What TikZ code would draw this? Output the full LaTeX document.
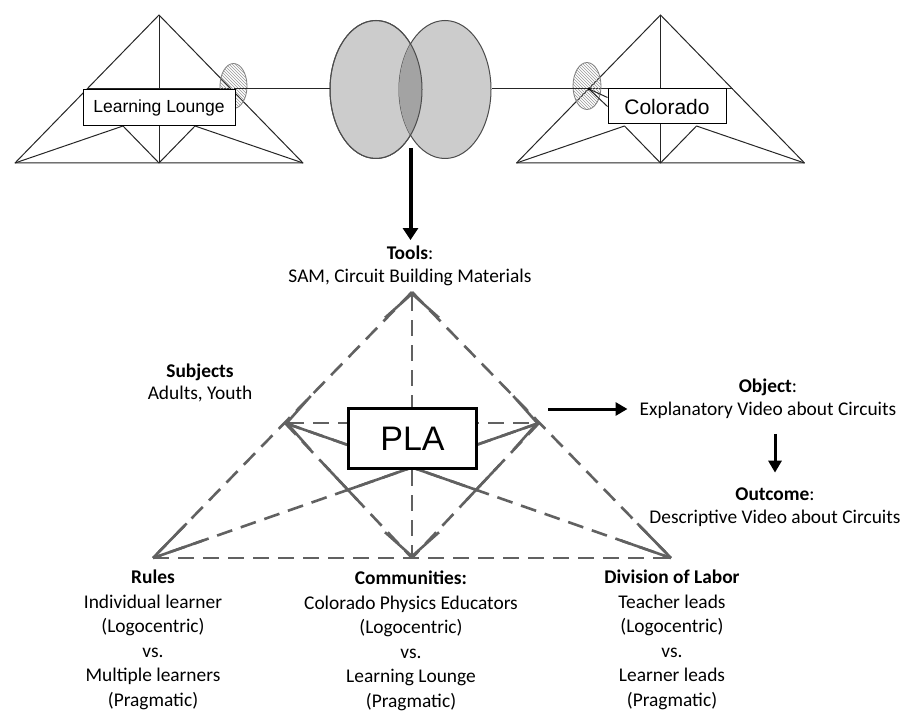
\documentclass[tikz,border=0pt]{standalone}
\usepackage{fontspec}
\setmainfont{Carlito}
\newfontfamily\arialfont{Liberation Sans}
\usetikzlibrary{positioning, calc, arrows.meta, shapes.geometric, patterns}

\tikzset{
  truss/.style={line width=1pt, black!85, line join=round},
  place/.style={draw, line width=1pt, fill=white, inner sep=0pt, font=\arialfont\fontsize{17.5}{20}\selectfont},
  hatch/.style={ellipse, draw=gray, line width=0.8pt, pattern=north west lines, pattern color=gray!80, inner sep=0pt},
  venn/.style={ellipse, draw=black!70, line width=1pt, fill=gray!40, minimum width=92pt, minimum height=138pt, inner sep=0pt},
  link/.style={black!62, line width=2.6pt, dash pattern=on 16pt off 9pt},
  solidlink/.style={link, solid},
  barb/.tip={Straight Barb[length=24pt,width=54pt]},
  heavy/.style={line width=3pt, -{Triangle[length=12pt,width=13pt]}},
  lbl/.style={align=center, inner sep=0pt, font=\fontsize{19.4}{22.5}\selectfont},
  block/.style={align=center, inner sep=0pt, font=\fontsize{19.4}{24.5}\selectfont},
  plabox/.style={draw, line width=3pt, fill=white, inner sep=0pt, minimum width=128pt, minimum height=60pt, font=\arialfont\fontsize{34}{38}\selectfont},
}

\begin{document}
\begin{tikzpicture}[x=1pt, y=-1pt]
  \fill[white] (0,0) rectangle (905,711);
  \useasboundingbox (0,0) rectangle (905,711);

  % Draw the two trusses
  \foreach \bx in {15,516.5} {
    \draw[truss] (\bx,163) -- (\bx+288,163) -- (\bx+144,15) -- cycle;
    \draw[truss] (\bx+144,15) -- (\bx+144,163);
    \draw[truss] (\bx+72,89) -- (\bx+216,89);
    \draw[truss] (\bx,163) -- (\bx+108,126) -- (\bx+144,163) -- (\bx+180,126) -- (\bx+288,163);
  }

  % Hatched joints and site boxes
  \node[hatch, minimum width=27pt, minimum height=45pt] (hatch left) at (233.5,86) {};
  \node[hatch, minimum width=28pt, minimum height=47pt] (hatch right) at (587,86) {};
  \node[place, minimum width=152pt, minimum height=36pt] (lounge) at (159,108) {Learning Lounge};
  \node[place, minimum width=118pt, minimum height=35pt, font=\arialfont\fontsize{21}{24}\selectfont] (colorado) at (667,106.5) {Colorado};

  % Overlapping ellipses
  \node[venn] (venn left) at (376,89.5) {};
  \node[venn] (venn right) at (445,89.5) {};
  \begin{scope}
    \clip (376,89.5) ellipse [x radius=46, y radius=69];
    \fill[gray!72] (445,89.5) ellipse [x radius=46, y radius=69];
  \end{scope}
  \draw[black!70, line width=1pt] (376,89.5) ellipse [x radius=46, y radius=69];

  % Links from the trusses to the ellipses
  \coordinate (joint) at (589,89);
  \draw[truss] (hatch left.center |- joint) -- (venn left.west |- joint);
  \draw[truss] (venn right.east |- joint) -- (joint);
  \draw[truss] (joint) -- (colorado.west);
  \draw[truss] (joint) -- ([yshift=9pt]colorado.west);
  \fill (joint) circle (1.6);

  % Labels round the activity triangle
  \node[lbl] (tools label) at (410,266) {\textbf{Tools}:\\SAM, Circuit Building Materials};
  \node[lbl] (subj label) at (200,383) {\textbf{Subjects}\\Adults, Youth};
  \node[lbl] (object label) at (768,399) {\textbf{Object}:\\Explanatory Video about Circuits};
  \node[lbl] (outcome label) at (775,507) {\textbf{Outcome}:\\Descriptive Video about Circuits};
  \foreach \x/\y/\name/\head/\one/\two in {153/640/rules label/Rules/Individual learner/Multiple learners,
      411/641/comm label/Communities:/Colorado Physics Educators/Learning Lounge,
      672/640/div label/Division of Labor/Teacher leads/Learner leads}
    \node[block] (\name) at (\x,\y) {\textbf{\head}\\\one\\(Logocentric)\\vs.\\\two\\(Pragmatic)};

  % Corners of the activity triangle
  \coordinate (tools) at (412,292);
  \coordinate (subj) at (285,423);
  \coordinate (obj) at (539,423);
  \coordinate (rules) at (153,558);
  \coordinate (comm) at (412,558);
  \coordinate (div) at (671,558);

  % Dashed sides and inner lines
  \draw[link] (tools) -- (rules);
  \draw[link] (tools) -- (div);
  \draw[link] (rules) -- (div);
  \draw[link] (subj) -- (comm);
  \draw[link] (obj) -- (comm);
  \draw[link] (subj) -- (div);
  \draw[link] (obj) -- (rules);
  \draw[link, barb-barb] (tools) -- (comm);
  \draw[link, barb-barb] (subj) -- (obj);

  % Solid stretches
  \draw[solidlink] (rules) -- ($(rules)!0.13!(tools)$);
  \draw[solidlink] (div) -- ($(div)!0.13!(tools)$);
  \draw[solidlink] (rules) -- ($(rules)!0.13!(obj)$);
  \draw[solidlink] (div) -- ($(div)!0.13!(subj)$);
  \draw[solidlink] (subj) -- ($(subj)!0.5!(div)$);
  \draw[solidlink] (obj) -- ($(obj)!0.5!(rules)$);
  \draw[solidlink] ($(subj)!0.31!(comm)$) -- ($(subj)!0.57!(comm)$);
  \draw[solidlink] ($(obj)!0.31!(comm)$) -- ($(obj)!0.57!(comm)$);

  \node[plabox] (pla) at (412.5,438.5) {PLA};

  % Arrows
  \coordinate (venn out) at (410.5,148);
  \draw[line width=4pt, -{Triangle[length=12pt,width=15pt]}, shorten >=6pt] (venn out) -- (venn out |- tools label.north);
  \coordinate (obj out) at (548,409);
  \draw[heavy, shorten >=12pt] (obj out) -- (obj out -| object label.west);
  \draw[heavy, shorten <=15pt, shorten >=15pt] (object label.south -| outcome label.north) -- (outcome label.north);
\end{tikzpicture}
\end{document}
